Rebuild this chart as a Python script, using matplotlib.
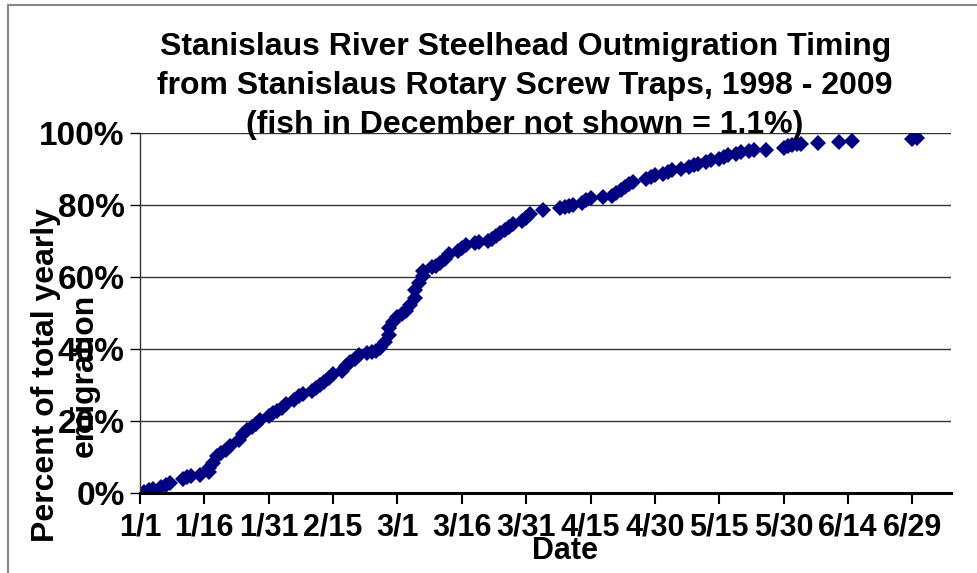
import numpy as np
import matplotlib.pyplot as plt
from matplotlib.lines import Line2D

plt.rcParams['font.family'] = ['Liberation Sans', 'DejaVu Sans']
plt.rcParams['font.weight'] = 'bold'

# days after Jan 1, cumulative percent of yearly emigration
days = [1, 2, 3, 5, 6, 7, 10, 11, 12, 14, 16, 16, 17, 18, 19, 20, 21, 23, 24, 25,
        26, 27, 28, 30, 31, 32, 33, 34, 36, 37, 38, 40, 41, 42, 43, 44, 45, 47, 48,
        49, 50, 51, 53, 54, 55, 56, 57, 58, 58, 59, 60, 61, 62, 63, 64, 64, 65, 66,
        66, 68, 69, 70, 71, 72, 74, 75, 76, 78, 79, 81, 82, 83, 84, 85, 86, 87, 89,
        90, 91, 94, 98, 99, 100, 101, 103, 104, 105, 108, 110, 111, 112, 113, 114,
        115, 118, 119, 120, 122, 123, 124, 126, 128, 129, 130, 132, 133, 135, 136,
        137, 139, 140, 142, 143, 146, 150, 151, 152, 153, 154, 158, 163, 166, 180, 181]
pct = [0.3, 0.8, 1.1, 1.7, 2.2, 2.8, 3.9, 4.4, 4.7, 5.0, 5.8, 6.9, 8.3, 10.3, 11.1,
       11.9, 13.1, 14.7, 16.4, 17.5, 18.3, 19.2, 20.3, 21.4, 22.2, 22.8, 23.6, 24.7,
       25.8, 26.9, 27.5, 28.3, 29.2, 30.0, 30.8, 31.9, 33.1, 33.9, 35.3, 36.4, 37.2,
       38.3, 38.9, 39.2, 39.4, 40.3, 41.9, 43.9, 45.8, 47.5, 48.9, 49.7, 50.6, 52.2,
       54.2, 56.4, 58.3, 60.3, 61.7, 62.8, 63.1, 63.9, 65.0, 66.4, 67.2, 68.1, 68.9,
       69.4, 69.7, 69.9, 70.6, 71.4, 72.2, 73.1, 73.9, 74.7, 75.6, 76.4, 77.5, 78.6,
       79.2, 79.4, 79.7, 80.0, 80.6, 81.4, 81.9, 82.2, 82.5, 83.3, 84.2, 85.0, 85.8,
       86.4, 87.2, 87.8, 88.3, 88.6, 89.2, 89.7, 90.0, 90.6, 91.1, 91.4, 91.9, 92.5,
       92.8, 93.3, 93.9, 94.2, 94.7, 95.0, 95.3, 95.4, 95.8, 96.4, 96.7, 96.9, 96.9,
       97.2, 97.5, 97.8, 98.3, 98.5]

tick_days = [0, 15, 30, 45, 60, 75, 90, 105, 120, 135, 150, 165, 180]
tick_labels = ['1/1', '1/16', '1/31', '2/15', '3/1', '3/16', '3/31', '4/15',
               '4/30', '5/15', '5/30', '6/14', '6/29']

fig = plt.figure(figsize=(9.78, 5.73), dpi=100)
ax = fig.add_axes([0.1431, 0.1396, 0.8293, 0.6283])

ax.plot(days, pct, 'D', color='#000080', markersize=8, markeredgewidth=0)

ax.set_xlim(0, 189)
ax.set_ylim(0, 100)
ax.set_xticks(tick_days)
ax.set_xticklabels(tick_labels)
ax.set_yticks([0, 20, 40, 60, 80, 100])
ax.set_yticklabels(['0%', '20%', '40%', '60%', '80%', '100%'])
ax.tick_params(axis='x', labelsize=22, length=8, width=1.5, pad=6)
ax.tick_params(axis='y', labelsize=24, length=7, width=1, pad=4)
ax.yaxis.grid(True, color='#333333', linewidth=1)
ax.set_axisbelow(True)

for side in ['top', 'right']:
    ax.spines[side].set_visible(False)
ax.spines['bottom'].set_linewidth(2.2)
ax.spines['left'].set_color('#333333')
ax.spines['left'].set_linewidth(1)

fig.text(0.537, 1 - 32 / 573,
         'Stanislaus River Steelhead Outmigration Timing\n'
         'from Stanislaus Rotary Screw Traps, 1998 - 2009\n'
         '(fish in December not shown = 1.1%)',
         ha='center', va='top', fontsize=23, fontweight='bold', linespacing=1.4)

fig.text(0.578, 1 - 551 / 573, 'Date', ha='center', va='center', fontsize=22)
fig.text(0.067, 1 - 375 / 573, 'Percent of total yearly\nemigration',
         ha='center', va='center', rotation=90, fontsize=23, linespacing=1.4)

# chart border
fig.add_artist(Line2D([8 / 978, 8 / 978], [0, 1 - 5 / 573], color='#888888', lw=1.5))
fig.add_artist(Line2D([8 / 978, 1], [1 - 5 / 573, 1 - 5 / 573], color='#888888', lw=1.5))

fig.savefig('out.png', dpi=100)
